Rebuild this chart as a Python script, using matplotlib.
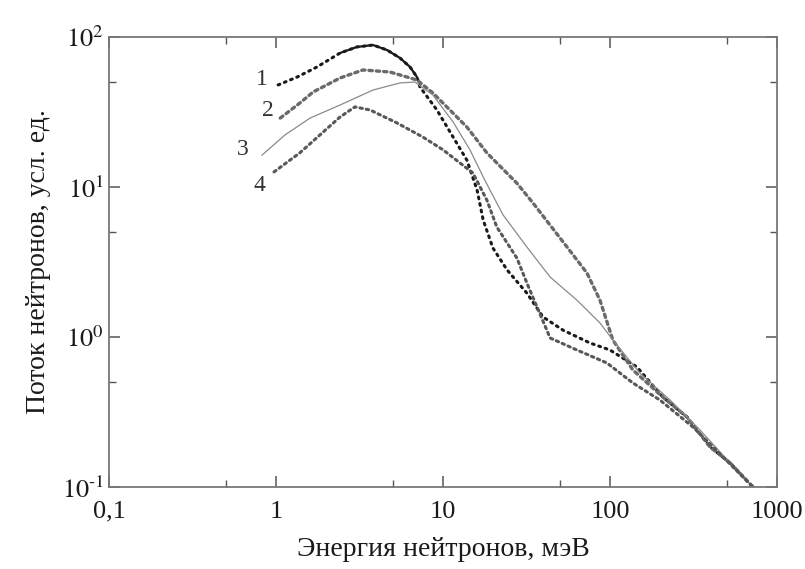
import matplotlib
matplotlib.use("Agg")
import matplotlib.pyplot as plt
from matplotlib.ticker import FixedLocator, NullFormatter

plt.rcParams['font.family'] = ['Liberation Serif', 'DejaVu Serif']
plt.rcParams['mathtext.fontset'] = 'stix'

# energies (meV) and fluxes (arb. units)
e1 = [1.03, 1.34, 1.76, 2.42, 3.05, 3.81, 4.62, 5.53, 6.35, 6.98, 7.28, 9.2, 11.5,
      13.9, 16.0, 17.4, 19.9, 24.2, 31.8, 39.7, 52.4, 75.9, 100, 145, 207, 289,
      397, 523, 718]
f1 = [47.9, 54.1, 63.1, 78.2, 85.8, 88.4, 81.9, 72.4, 63.1, 54.1, 46.4, 32.6, 21.5,
      15.1, 9.55, 6.03, 3.92, 2.80, 1.96, 1.36, 1.11, 0.912, 0.819, 0.631, 0.398,
      0.293, 0.185, 0.145, 0.10]

e2 = [1.06, 1.39, 1.67, 2.42, 3.32, 4.82, 6.98, 8.71, 11.0, 13.9, 18.3, 27.7, 34.6,
      55.3, 72.8, 87.1, 104, 137, 207, 289, 397, 523, 718]
f2 = [28.8, 36.3, 43.0, 53.3, 60.3, 58.4, 51.7, 42.3, 32.6, 25.1, 16.9, 10.6, 7.82,
      3.98, 2.67, 1.76, 0.955, 0.603, 0.398, 0.293, 0.185, 0.145, 0.10]

e3 = [0.824, 1.13, 1.60, 2.42, 3.81, 5.53, 6.79, 8.71, 11.5, 14.5, 17.8, 22.9, 31.8,
      43.8, 63.4, 87.1, 104, 151, 229, 346, 523]
f3 = [16.3, 22.2, 28.8, 35.2, 44.3, 49.4, 50.1, 41.0, 27.1, 17.7, 11.1, 6.51, 3.98,
      2.51, 1.76, 1.24, 0.955, 0.575, 0.38, 0.24, 0.145]

e4 = [0.973, 1.39, 1.83, 2.42, 2.97, 3.66, 5.31, 7.59, 10.0, 12.6, 15.1, 18.3, 21.0,
      27.7, 31.8, 36.6, 43.8, 63.4, 95.9, 137, 199, 314, 414, 718]
f4 = [12.6, 16.9, 22.2, 29.3, 34.2, 32.6, 26.7, 21.5, 17.7, 14.5, 12.4, 8.19, 5.41,
      3.36, 2.29, 1.58, 0.985, 0.819, 0.671, 0.494, 0.380, 0.251, 0.185, 0.10]

curve_names = ["1", "2", "3", "4"]
x_ticks = [0.1, 1, 10, 100, 1000]
x_labels = ["0,1", "1", "10", "100", "1000"]
y_ticks = [0.1, 1, 10, 100]
y_labels = [r"$10^{\text{-}1}$", r"$10^{0}$", r"$10^{1}$", r"$10^{2}$"]

fig = plt.figure(figsize=(8.05, 5.69), dpi=100)
ax = fig.add_axes([0.1354, 0.1441, 0.8298, 0.7909])

dot = (0, (0.6, 1.6))
ax.plot(e1, f1, color='#1a1a1a', lw=2.2, linestyle=dot, dash_capstyle='round')
ax.plot(e1[3:10], f1[3:10], color='#1a1a1a', lw=1.6)
ax.plot(e2, f2, color='#6a6a6a', lw=2.4, linestyle=(0, (1.0, 1.2)), dash_capstyle='round')
ax.plot(e3, f3, color='#8a8a8a', lw=0.9)
ax.plot(e4, f4, color='#585858', lw=2.2, linestyle=(0, (0.8, 1.3)), dash_capstyle='round')

# curve numbers
lab_pos = [(0.82, 51.7), (0.895, 32.6), (0.634, 17.7), (0.80, 10.3)]
for name, (xx, yy) in zip(curve_names, lab_pos):
    ax.text(xx, yy, name, fontsize=17, color='#333333', ha='center', va='center')

ax.set_xscale('log')
ax.set_yscale('log')
ax.set_xlim(0.1, 1000)
ax.set_ylim(0.1, 100)

ax.xaxis.set_major_locator(FixedLocator(x_ticks))
ax.set_xticklabels(x_labels)
ax.yaxis.set_major_locator(FixedLocator(y_ticks))
ax.set_yticklabels(y_labels)
ax.xaxis.set_minor_locator(FixedLocator([0.5, 5, 50, 500]))
ax.yaxis.set_minor_locator(FixedLocator([0.5, 5, 50]))
ax.xaxis.set_minor_formatter(NullFormatter())
ax.yaxis.set_minor_formatter(NullFormatter())

ax.tick_params(which='both', direction='in', top=True, right=True,
               colors='#555555', labelcolor='#1a1a1a', labelsize=19)
ax.tick_params(which='major', length=8, width=1.1)
ax.tick_params(which='minor', length=5, width=1.0)
ax.tick_params(axis='x', pad=10)
for s in ax.spines.values():
    s.set_color('#777777')
    s.set_linewidth(1.3)

ax.set_xlabel("Энергия нейтронов, мэВ", fontsize=20, color='#1a1a1a', labelpad=10)
ax.set_ylabel("Поток нейтронов, усл. ед.", fontsize=20, color='#1a1a1a', labelpad=8)

fig.savefig("out.png", dpi=100)
plt.close(fig)
